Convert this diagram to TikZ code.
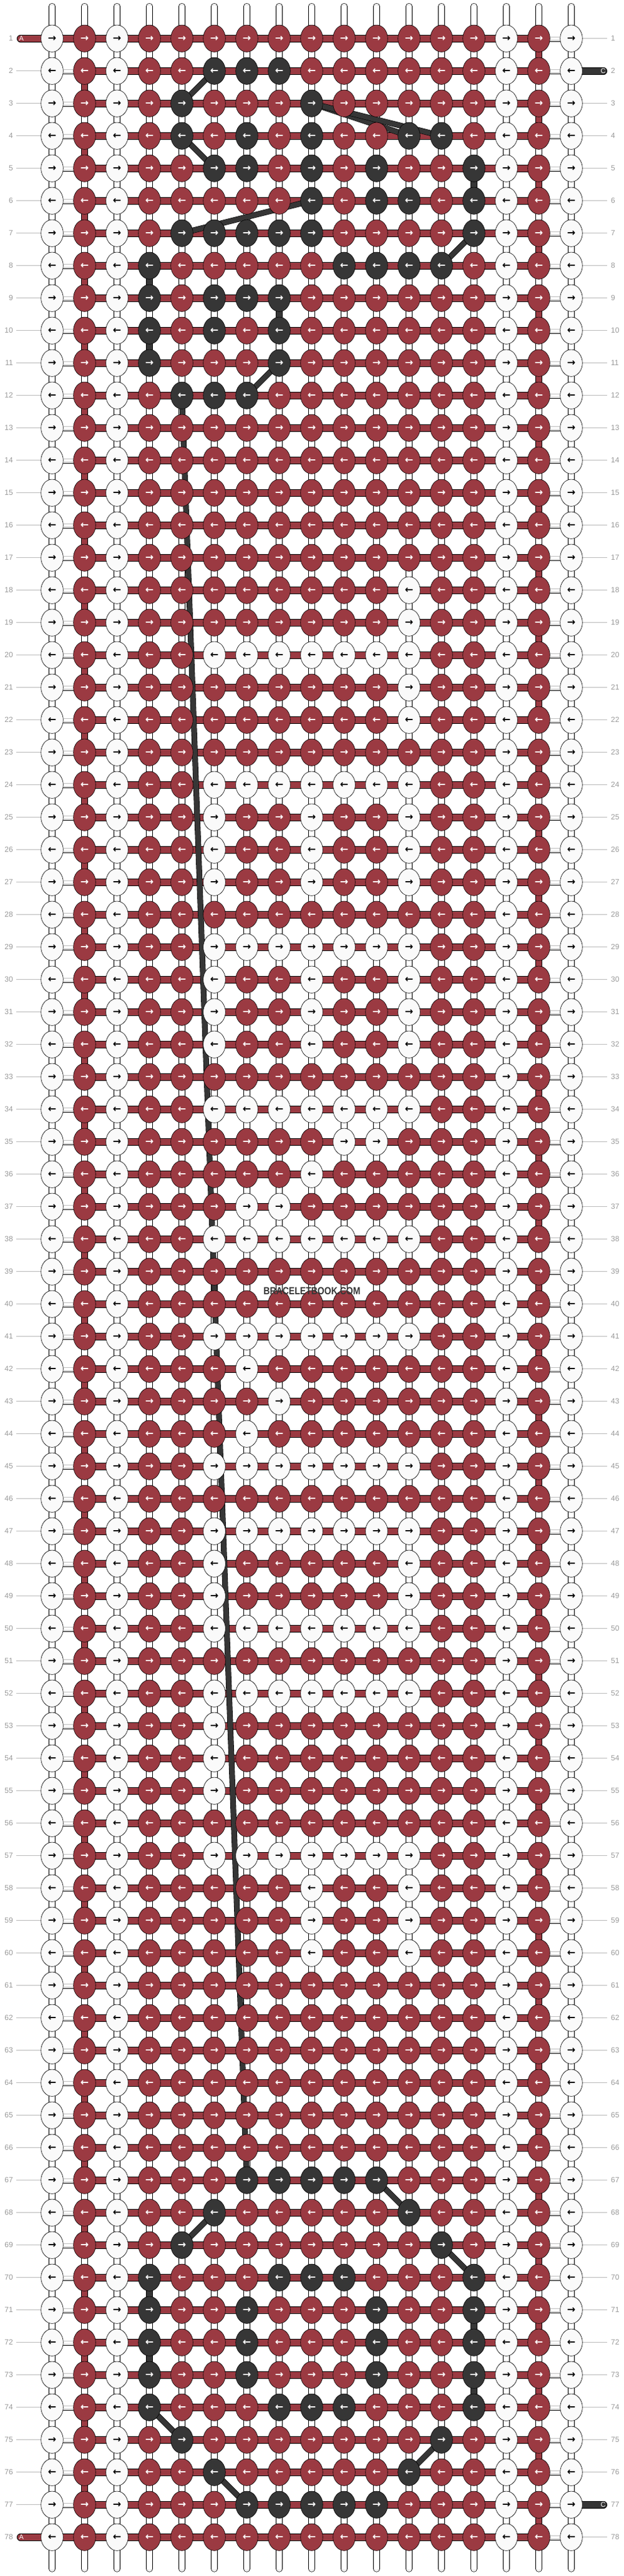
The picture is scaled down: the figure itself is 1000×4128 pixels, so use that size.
\documentclass[tikz,border=0pt]{standalone}
\usepackage{fontspec}
\setmainfont{Liberation Sans}
\newfontfamily\arrowfont{DejaVu Sans}
\usetikzlibrary{shapes.geometric}

\pgfdeclarelayer{segs}
\pgfdeclarelayer{jumps}
\pgfsetlayers{segs,jumps,main}

\definecolor{knR}{HTML}{9B3A42}
\definecolor{knD}{HTML}{363636}
\definecolor{knW}{HTML}{FAFAFA}
\colorlet{arR}{white}
\colorlet{arD}{white}
\colorlet{arW}{black}
\definecolor{numgray}{HTML}{999999}
\definecolor{tickgray}{HTML}{BBBBBB}

\tikzset{
  knot/.style={ellipse, draw=black, line width=0.6pt, fill=kn#1, text=ar#1,
    minimum width=35.6pt, minimum height=43.3pt, inner sep=0pt,
    font=\arrowfont\bfseries\fontsize{16}{16}\selectfont},
  redrow/.style={draw=black, line width=0.8pt, double=knR, double distance=10pt},
  darkrow/.style={draw=black, line width=0.8pt, double=knD, double distance=10pt},
  redcol/.style={draw=black, line width=0.7pt, double=knR, double distance=9pt},
  darkcol/.style={draw=black, line width=0.7pt, double=knD, double distance=9pt},
  whiteseg/.style={draw=black, line width=0.7pt, double=white, double distance=9pt,
    postaction={draw=black!25, line width=0.6pt, double=white, double distance=4.4pt}},
  jumpline/.style={draw=black, line width=0.6pt, double=knD, double distance=8pt},
  rowlab/.style={inner sep=0pt, text=numgray, font=\fontsize{12}{12}\selectfont},
  rowtick/.style={draw=tickgray, line width=1pt},
  tablab/.style={inner sep=0pt, text=white, font=\fontsize{11}{11}\selectfont},
  brand/.style={inner sep=0pt, text=knD, font=\bfseries\fontsize{16.5}{16.5}\selectfont},
}

% plain rows of the middle field
\def\rowR{R,R,R,R,R,R,R,R,R,R,R}
\def\rowW{R,R,W,W,W,W,W,W,W,R,R}

\begin{document}
\begin{tikzpicture}[x=1pt,y=-1pt]
\useasboundingbox (0,0) rectangle (1000,4128);

% knots, row by row (middle field, columns 3 to 13)
\foreach \pat [count=\i] in {
  \rowR,
  {R,R,D,D,D,R,R,R,R,R,R},
  {R,D,R,R,R,D,R,R,R,R,R},
  {R,D,R,D,R,D,R,R,D,D,R},
  {R,R,D,D,R,D,R,D,R,R,D},
  {R,R,R,R,R,D,R,D,D,R,D},
  {R,D,D,D,D,D,R,R,R,R,D},
  {D,R,R,R,R,R,D,D,D,D,R},
  {D,R,D,D,D,R,R,R,R,R,R},
  {D,R,D,R,D,R,R,R,R,R,R},
  {D,R,R,R,D,R,R,R,R,R,R},
  {R,D,D,D,R,R,R,R,R,R,R},
  \rowR, \rowR, \rowR, \rowR, \rowR,
  {R,R,R,R,R,R,R,R,W,R,R},
  {R,R,R,R,R,R,R,R,W,R,R},
  \rowW,
  {R,R,R,R,R,R,R,R,W,R,R},
  {R,R,R,R,R,R,R,R,W,R,R},
  \rowR,
  \rowW,
  {R,R,W,R,R,W,R,R,W,R,R},
  {R,R,W,R,R,W,R,R,W,R,R},
  {R,R,W,R,R,W,R,R,W,R,R},
  \rowR,
  \rowW,
  {R,R,W,R,R,W,R,R,W,R,R},
  {R,R,W,R,R,W,R,R,W,R,R},
  {R,R,W,R,R,W,R,R,W,R,R},
  \rowR,
  \rowW,
  {R,R,R,R,R,R,W,W,R,R,R},
  {R,R,R,R,R,W,R,R,R,R,R},
  {R,R,R,W,W,R,R,R,R,R,R},
  \rowW,
  \rowR, \rowR,
  \rowW,
  {R,R,R,W,R,R,R,R,R,R,R},
  {R,R,R,R,W,R,R,R,R,R,R},
  {R,R,R,W,R,R,R,R,R,R,R},
  \rowW,
  \rowR,
  \rowW,
  {R,R,W,R,R,R,R,R,W,R,R},
  {R,R,W,R,R,R,R,R,W,R,R},
  \rowW,
  \rowR,
  \rowW,
  {R,R,W,R,R,R,R,R,R,R,R},
  {R,R,W,R,R,R,R,R,R,R,R},
  {R,R,W,R,R,R,R,R,R,R,R},
  \rowR,
  \rowW,
  {R,R,R,R,R,W,R,R,W,R,R},
  {R,R,R,R,R,W,R,R,W,R,R},
  {R,R,R,R,R,W,R,R,W,R,R},
  \rowR, \rowR, \rowR, \rowR, \rowR, \rowR,
  {R,R,R,D,D,D,D,D,R,R,R},
  {R,R,D,R,R,R,R,R,D,R,R},
  {R,D,R,R,R,R,R,R,R,D,R},
  {D,R,R,R,D,D,D,R,R,R,D},
  {D,R,R,D,R,R,R,D,R,R,D},
  {D,R,R,D,R,R,R,D,R,R,D},
  {D,R,R,D,R,R,R,D,R,R,D},
  {D,R,R,R,D,D,D,R,R,R,D},
  {R,D,R,R,R,R,R,R,R,D,R},
  {R,R,D,R,R,R,R,R,D,R,R},
  {R,R,R,D,D,D,D,D,R,R,R},
  \rowR}{
  \ifodd\i\relax \def\arr{→}\else \def\arr{←}\fi
  \edef\full{W,R,W,\pat,W,R,W}
  \foreach \k [count=\j from 0] in \full
    \node[knot=\k] (k-\i-\j) at ({83.5+52*\j},{61.7+52*(\i-1)}) {\arr};
}

\begin{pgfonlayer}{segs}
% strings across
\foreach \i in {1,...,78}{
  \foreach \j [evaluate=\j as \jj using int(\j+1)] in {1,...,14}
    \draw[redrow] (k-\i-\j.center) -- (k-\i-\jj.center);
  \draw[whiteseg] (k-\i-15.center) -- (k-\i-16.center);
}
\foreach \i in {2,...,77}
  \draw[whiteseg] (k-\i-0.center) -- (k-\i-1.center);
\draw[redrow] (k-1-0.center) -- (k-1-1.center);
\draw[redrow] (k-78-0.center) -- (k-78-1.center);

% strings down
\foreach \i [evaluate=\i as \ii using int(\i+1)] in {1,...,77}
  \foreach \j in {0,...,16}
    \draw[whiteseg] (k-\i-\j.center) -- (k-\ii-\j.center);
\foreach \i [evaluate=\i as \ii using int(\i+1)] in {2,4,...,76}
  \draw[redcol] (k-\i-1.center) -- (k-\ii-1.center);
\foreach \i [evaluate=\i as \ii using int(\i+1)] in {1,3,...,77}
  \draw[redcol] (k-\i-15.center) -- (k-\ii-15.center);
\foreach \i/\j [evaluate=\i as \ii using int(\i+1)] in {5/13,8/3,9/7,10/3,70/3,71/13,72/3,73/13}
  \draw[darkcol] (k-\i-\j.center) -- (k-\ii-\j.center);

% loose ends, top and bottom
\foreach \j in {0,...,16}{
  \coordinate (t-\j) at ({83.5+52*\j},10.2);
  \coordinate (b-\j) at ({83.5+52*\j},4116.5);
  \draw[whiteseg, line cap=round] (t-\j) -- (k-1-\j.center);
  \draw[whiteseg, line cap=round] (k-78-\j.center) -- (b-\j);
}

% tabs A and C
\coordinate (a-1) at (32.7,61.7);
\coordinate (a-78) at (32.7,4065.7);
\coordinate (c-2) at (967.3,113.7);
\coordinate (c-77) at (967.3,4013.7);
\draw[redrow, line cap=round] (a-1) -- (k-1-0.center);
\draw[redrow, line cap=round] (a-78) -- (k-78-0.center);
\draw[darkrow, line cap=round] (k-2-16.center) -- (c-2);
\draw[darkrow, line cap=round] (k-77-16.center) -- (c-77);
\end{pgfonlayer}

% dark string jumps
\begin{pgfonlayer}{jumps}
\foreach \ra/\ca/\rb/\cb in {3/4/2/5, 3/8/4/11, 3/8/4/12, 4/4/5/5, 7/4/6/8,
    8/12/7/13, 11/7/12/6, 12/4/67/6, 67/10/68/11, 68/5/69/4, 69/12/70/13,
    74/3/75/4, 76/5/77/6, 76/11/75/12}
  \draw[jumpline] (k-\ra-\ca.center) -- (k-\rb-\cb.center);
\end{pgfonlayer}

% row numbers
\foreach \i in {1,...,78}{
  \node[rowlab, anchor=east] (ln-\i) at (21,{61.7+52*(\i-1)}) {\i};
  \node[rowlab, anchor=west] (rn-\i) at (979,{61.7+52*(\i-1)}) {\i};
}
\foreach \i in {2,...,77}{
  \coordinate (lt-\i) at (26,{61.7+52*(\i-1)});
  \draw[rowtick] (lt-\i) -- (k-\i-0.west);
}
\foreach \i in {1,3,4,...,76,78}{
  \coordinate (rt-\i) at (973,{61.7+52*(\i-1)});
  \draw[rowtick] (k-\i-16.east) -- (rt-\i);
}

\node[tablab] (la-1) at (34.3,61.7) {A};
\node[tablab] (la-78) at (34.3,4065.7) {A};
\node[tablab] (lc-2) at (966.7,113.7) {C};
\node[tablab] (lc-77) at (966.7,4013.7) {C};

\node[brand] (wm) at (500,2068.6) {\scalebox{0.85}[1]{BRACELETBOOK.COM}};
\end{tikzpicture}
\end{document}
